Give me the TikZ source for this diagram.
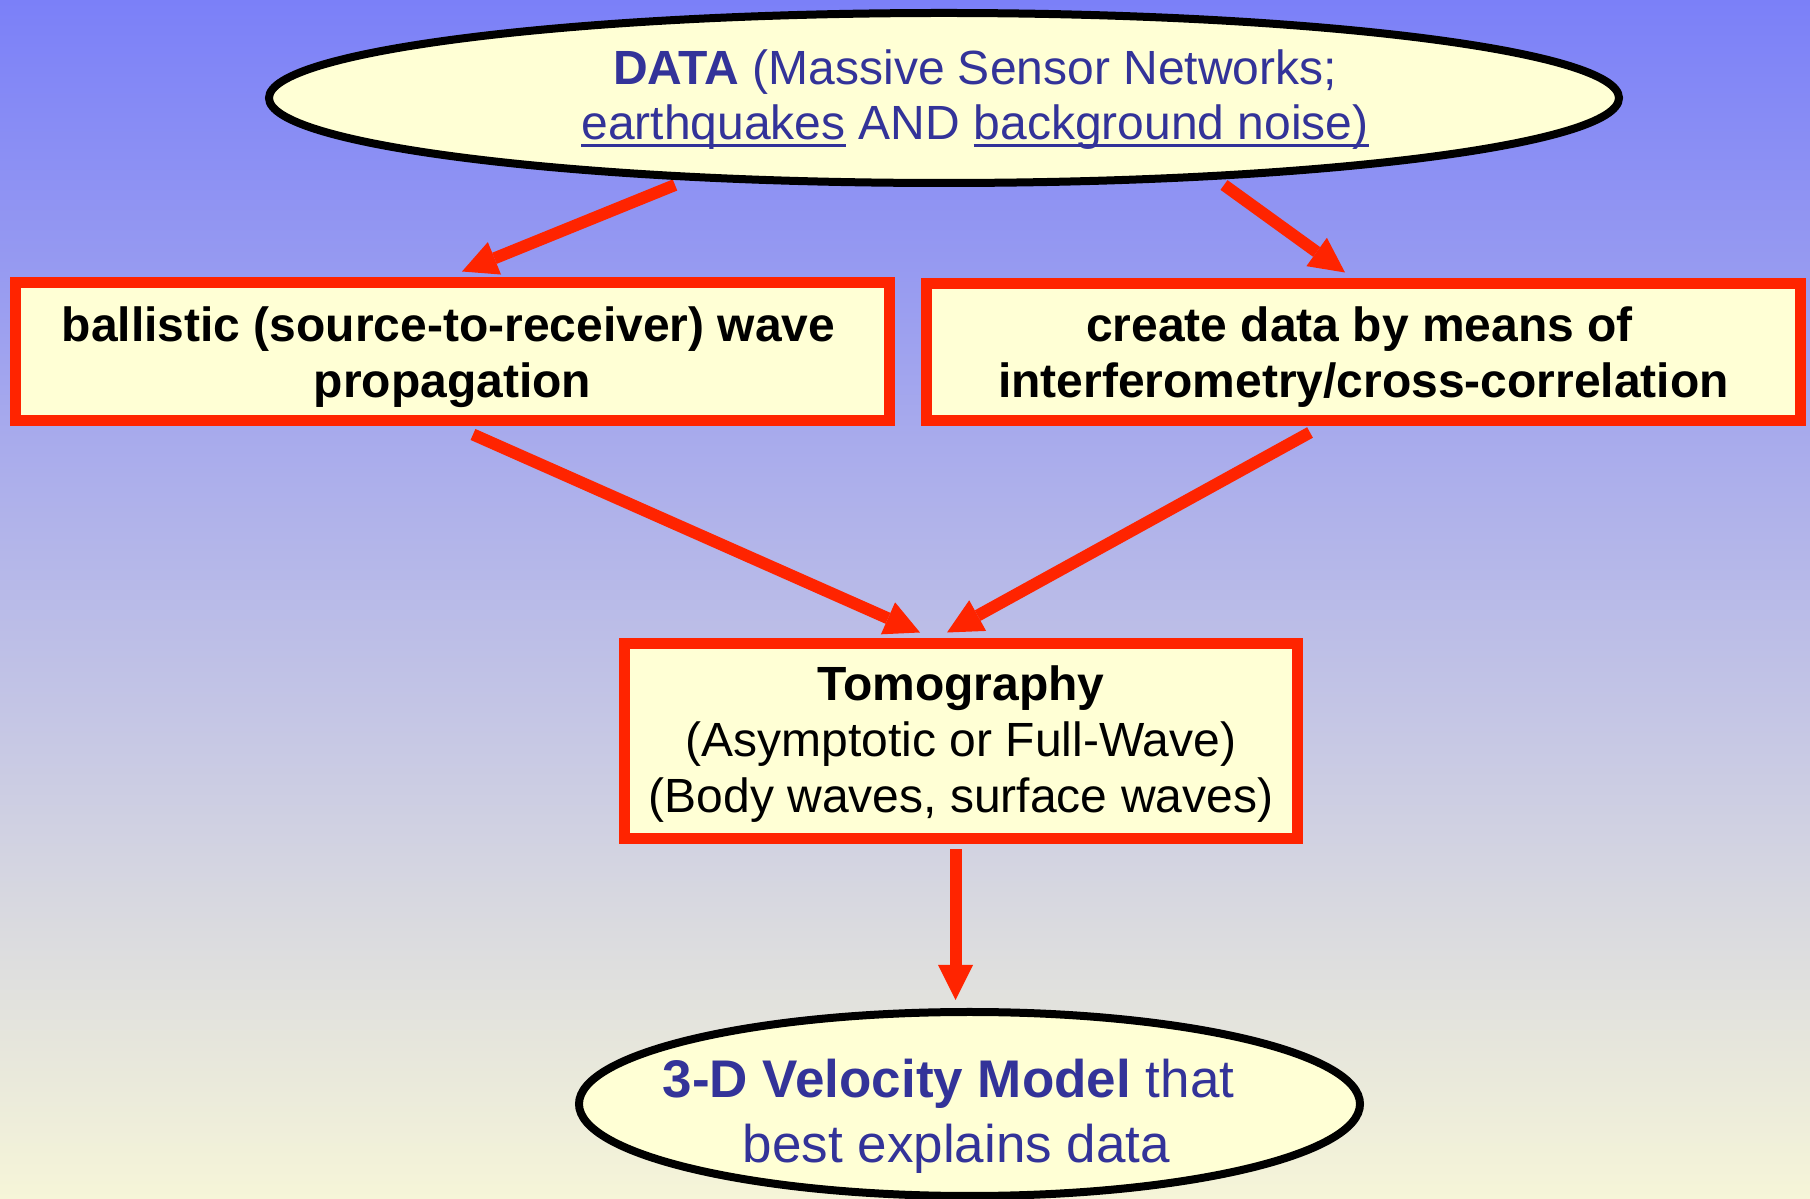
\documentclass[tikz,border=0pt]{standalone}
\usepackage{fontspec}
\setmainfont{Liberation Sans}
\usetikzlibrary{shapes.geometric,arrows.meta}

\definecolor{bgtop}{RGB}{123,128,248}
\definecolor{bgbot}{RGB}{246,245,216}
\definecolor{boxfill}{RGB}{255,255,213}
\definecolor{flowred}{RGB}{255,36,0}
\definecolor{textblue}{RGB}{51,51,153}

% underline drawn just below the baseline, crossing descenders
\newcommand\undl[1]{\setbox0=\hbox{#1}\rlap{\rule[-0.155em]{\wd0}{0.07em}}\box0\relax}
% invisible struts fixing the top and bottom of a text block
\newcommand\topstrut[1]{\rule{0pt}{#1}}
\newcommand\botstrut[1]{\rule[-#1]{0pt}{#1}}

\pgfdeclarelayer{bglayer}
\pgfdeclarelayer{arrowlayer}
\pgfsetlayers{bglayer,arrowlayer,main}

\tikzset{
  oval/.style={ellipse, draw=black, line width=8pt, fill=boxfill, inner sep=0pt, align=center},
  redbox/.style={rectangle, draw=flowred, line width=11pt, fill=boxfill, inner sep=0pt, align=center,
    font=\fontsize{48}{56}\selectfont\bfseries},
  flow/.style={draw=flowred, line width=12pt, -{Triangle[length=35pt,width=35pt,line width=0pt]}},
}

\begin{document}
\begin{tikzpicture}[x=1pt,y=1pt]
\useasboundingbox (0,0) rectangle (1810,1199);

% data source
\node[oval, minimum width=1350pt, minimum height=170pt, text=textblue,
      font=\fontsize{48}{55}\selectfont] (data) at (944,1101)
  {\hspace*{62pt}\topstrut{41pt}\textbf{DATA} (Massive Sensor Networks;\\
   \hspace*{62pt}\undl{earthquakes} AND \undl{background noise)}\botstrut{12pt}};

% two ways of obtaining data
\node[redbox, minimum width=874pt, minimum height=138pt] (ball) at (452.5,847.5)
  {\topstrut{49pt}ballistic (source-to-receiver) wave\hspace*{8pt}\\propagation\botstrut{13pt}};
\node[redbox, minimum width=874pt, minimum height=137pt] (cross) at (1363.5,847)
  {\topstrut{49pt}create data by means of\hspace*{8pt}\\interferometry/cross-correlation\botstrut{13pt}};

% inversion step
\node[redbox, minimum width=673pt, minimum height=195pt, font=\fontsize{48}{56}\selectfont] (tomo) at (961,458)
  {\topstrut{43.3pt}\textbf{Tomography}\\(Asymptotic or Full-Wave)\\(Body waves, surface waves)\botstrut{13pt}};

% result
\node[oval, minimum width=781pt, minimum height=184pt, text=textblue, inner xsep=-10pt, inner ysep=-15pt,
      font=\fontsize{53}{65}\selectfont] (model) at (969.5,95)
  {\hspace*{-42pt}\topstrut{64.2pt}\textbf{3-D Velocity Model} that\\
   \hspace*{-26pt}best explains data\botstrut{12pt}};

\begin{pgfonlayer}{bglayer}
  \shade[top color=bgtop, bottom color=bgbot] (0,0) rectangle (1810,1199);
\end{pgfonlayer}

\begin{pgfonlayer}{arrowlayer}
  \draw[flow] ([xshift=-269pt,yshift=-87pt]data.center) -- ([xshift=9.5pt,yshift=5.5pt]ball.north);
  \draw[flow] ([xshift=280pt,yshift=-87pt]data.center) -- ([xshift=-18.5pt,yshift=5.5pt]cross.north);
  \draw[flow] ([xshift=20.5pt,yshift=-8.5pt]ball.south) -- ([xshift=-41pt,yshift=5.5pt]tomo.north);
  \draw[flow] ([xshift=-53.5pt,yshift=-6.5pt]cross.south) -- ([xshift=-14pt,yshift=5.5pt]tomo.north);
  \draw[flow] ([xshift=-5.5pt,yshift=-5.5pt]tomo.south) -- ([xshift=-14pt,yshift=8pt]model.north);
\end{pgfonlayer}
\end{tikzpicture}
\end{document}
